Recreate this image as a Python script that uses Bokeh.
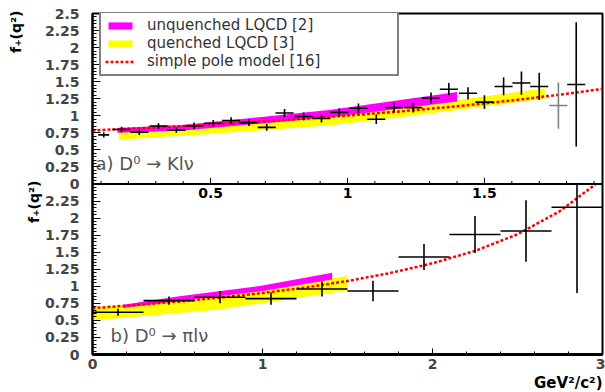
import math
from bokeh.plotting import figure
from bokeh.models import (Range1d, LinearAxis, FixedTicker, CustomJSTickFormatter,
                          Legend, LegendItem, Label, Span, Title)
from bokeh.core.properties import value
from bokeh.embed import file_html
from bokeh.resources import INLINE

# ---------------- Panel a) D0 -> K l nu ----------------
k_q2 = [0.11, 0.175, 0.24, 0.31, 0.375, 0.44, 0.51, 0.575, 0.64, 0.705, 0.77, 0.84, 0.905, 0.97,
        1.04, 1.105, 1.17, 1.24, 1.305, 1.37, 1.44, 1.50, 1.57, 1.635, 1.70, 1.77, 1.835]
k_f = [0.72, 0.80, 0.76, 0.85, 0.79, 0.85, 0.89, 0.93, 0.90, 0.83, 1.04, 0.99, 0.96, 1.05,
       1.11, 0.95, 1.12, 1.12, 1.26, 1.39, 1.33, 1.20, 1.43, 1.48, 1.43, 1.15, 1.46]
k_ferr = [0.04, 0.04, 0.04, 0.04, 0.04, 0.05, 0.05, 0.05, 0.05, 0.05, 0.06, 0.06, 0.06, 0.06,
          0.07, 0.07, 0.07, 0.07, 0.08, 0.09, 0.09, 0.10, 0.13, 0.17, 0.20, 0.34, 0.91]
k_q2err = [0.02] + [0.033] * 26

k_unq_q2 = [0.16, 0.39, 0.94, 1.40]
k_unq_lo = [0.75, 0.78, 0.98, 1.21]
k_unq_hi = [0.82, 0.86, 1.09, 1.35]

k_que_q2 = [0.165, 0.41, 0.94, 1.19, 1.72]
k_que_lo = [0.65, 0.71, 0.86, 0.98, 1.25]
k_que_hi = [0.78, 0.84, 0.98, 1.12, 1.40]

k_pole_q2 = [0.069, 0.2, 0.4, 0.6, 0.8, 1.0, 1.2, 1.4, 1.6, 1.8, 1.931]
k_pole_f = [0.786, 0.810, 0.849, 0.897, 0.947, 1.004, 1.067, 1.140, 1.224, 1.322, 1.395]

k_xticks_major = [0.5, 1.0, 1.5]
k_xticks_minor = [0.1, 0.2, 0.3, 0.4, 0.6, 0.7, 0.8, 0.9, 1.1, 1.2, 1.3, 1.4, 1.6, 1.7, 1.8, 1.9]
k_xtick_labels = ["0.5", "1", "1.5"]

# ---------------- Panel b) D0 -> pi l nu ----------------
pi_q2 = [0.15, 0.45, 0.75, 1.05, 1.35, 1.65, 1.95, 2.25, 2.55, 2.85]
pi_f = [0.62, 0.79, 0.84, 0.82, 0.96, 0.93, 1.43, 1.76, 1.81, 2.16]
pi_ferr = [0.05, 0.06, 0.09, 0.09, 0.11, 0.15, 0.19, 0.27, 0.45, 1.26]
pi_q2err = [0.15] * 10

pi_unq_q2 = [0.18, 0.5, 1.0, 1.41]
pi_unq_lo = [0.68, 0.78, 0.93, 1.10]
pi_unq_hi = [0.73, 0.85, 1.01, 1.20]

pi_que_q2 = [0.0, 0.75, 1.5]
pi_que_lo = [0.50, 0.66, 0.94]
pi_que_hi = [0.68, 0.86, 1.15]

pi_pole_q2 = [0.0, 0.25, 0.5, 0.75, 1.0, 1.25, 1.5, 1.75, 2.0, 2.25, 2.5, 2.75, 2.96]
pi_pole_f = [0.68, 0.725, 0.775, 0.834, 0.901, 0.981, 1.077, 1.194, 1.337, 1.519, 1.762, 2.103, 2.50]

y_ticks = [0.25 * i for i in range(21)]
y_minor = [round(0.05 * i, 2) for i in range(101)]
x_ticks = [0, 1, 2, 3]
x_minor = [round(0.2 * i, 1) for i in range(16)]

PANEL_TOP = 2.5  # f+ limit of each panel

# ---------------- figure ----------------
p = figure(width=605, height=392, x_range=Range1d(0, 3), y_range=Range1d(0, 5.0),
           output_backend="svg", toolbar_location=None,
           x_axis_type=None, y_axis_type=None,
           min_border_left=92, min_border_right=3, min_border_top=13, min_border_bottom=38)
p.extra_x_ranges = {"kx": Range1d(0.069, 1.931)}
p.extra_y_ranges = {"ky": Range1d(-2.5, 2.5)}
p.outline_line_color = "black"
p.outline_line_width = 2
p.background_fill_color = "white"
p.border_fill_color = "white"

tick_font = value("DejaVu Sans")

yaxis = LinearAxis(ticker=FixedTicker(ticks=y_ticks, minor_ticks=y_minor),
                   formatter=CustomJSTickFormatter(code="""
                       let v = tick >= 2.4999 ? tick - 2.5 : tick;
                       v = Math.round(v * 100) / 100;
                       return String(v);"""))
yaxis.major_tick_in = 8
yaxis.major_tick_out = 0
yaxis.minor_tick_in = 4
yaxis.minor_tick_out = 0
yaxis.axis_line_width = 2
yaxis.major_label_text_font = "DejaVu Sans"
yaxis.major_label_text_font_style = "bold"
yaxis.major_label_text_font_size = "14px"
yaxis.major_label_standoff = 13
p.add_layout(yaxis, "left")

xaxis = LinearAxis(ticker=FixedTicker(ticks=x_ticks, minor_ticks=x_minor))
xaxis.major_tick_in = 6
xaxis.major_tick_out = 0
xaxis.minor_tick_in = 3
xaxis.minor_tick_out = 0
xaxis.axis_line_width = 3
xaxis.major_label_text_font = "DejaVu Sans"
xaxis.major_label_text_font_style = "bold"
xaxis.major_label_text_font_size = "14px"
xaxis.major_label_standoff = 4
p.add_layout(xaxis, "below")

# axis titles (side panels, so they are not clipped to the frame)
for off in (167, -3):
    p.add_layout(Title(text="f₊(q²)", align="right", offset=off, standoff=0,
                       text_font="DejaVu Sans", text_font_size="14px",
                       text_font_style="bold", text_color="black"), "left")
p.add_layout(Title(text="GeV²/c²)", align="right", offset=0, standoff=0,
                   text_font="DejaVu Sans", text_font_size="15px",
                   text_font_style="bold", text_color="black"), "below")

# separator between panels
p.add_layout(Span(location=PANEL_TOP, dimension="width", line_color="black", line_width=2))

# ---------------- panel a ----------------
kk = dict(x_range_name="kx", y_range_name="ky")
r_que = p.varea(x=k_que_q2, y1=k_que_lo, y2=k_que_hi, fill_color="#ffff00", **kk)
r_unq = p.varea(x=k_unq_q2, y1=k_unq_lo, y2=k_unq_hi, fill_color="#ff00ff", **kk)
r_pole = p.line(k_pole_q2, k_pole_f, line_color="#ff0000", line_width=2.5, line_dash="3 2", **kk)

k_col = ["black"] * len(k_q2)
k_col[25] = "#808080"
p.segment(x0=[q - d for q, d in zip(k_q2, k_q2err)], x1=[q + d for q, d in zip(k_q2, k_q2err)],
          y0=k_f, y1=k_f, line_color=k_col, line_width=1.6, **kk)
p.segment(x0=k_q2, x1=k_q2, y0=[f - e for f, e in zip(k_f, k_ferr)],
          y1=[f + e for f, e in zip(k_f, k_ferr)], line_color=k_col, line_width=1.6, **kk)

# x ticks of panel a (drawn at the panel's lower edge)
p.segment(x0=k_xticks_minor, x1=k_xticks_minor, y0=[0] * len(k_xticks_minor),
          y1=[0.045] * len(k_xticks_minor), line_color="black", line_width=1, **kk)
p.segment(x0=k_xticks_major, x1=k_xticks_major, y0=[0] * 3, y1=[0.09] * 3,
          line_color="black", line_width=1, **kk)
p.text(x=k_xticks_major, y=[0] * 3, text=k_xtick_labels, text_font=tick_font,
       text_font_style="bold", text_font_size="14px", text_align="center",
       text_baseline="top", y_offset=4, **kk)

# ---------------- panel b ----------------
p.varea(x=pi_que_q2, y1=pi_que_lo, y2=pi_que_hi, fill_color="#ffff00")
p.varea(x=pi_unq_q2, y1=pi_unq_lo, y2=pi_unq_hi, fill_color="#ff00ff")
p.line(pi_pole_q2, pi_pole_f, line_color="#ff0000", line_width=2.5, line_dash="3 2")
p.segment(x0=[q - d for q, d in zip(pi_q2, pi_q2err)], x1=[q + d for q, d in zip(pi_q2, pi_q2err)],
          y0=pi_f, y1=pi_f, line_color="black", line_width=1.6)
p.segment(x0=pi_q2, x1=pi_q2, y0=[f - e for f, e in zip(pi_f, pi_ferr)],
          y1=[min(f + e, PANEL_TOP) for f, e in zip(pi_f, pi_ferr)], line_color="black", line_width=1.6)

# ---------------- legend ----------------
legend = Legend(items=[LegendItem(label="unquenched LQCD [2]", renderers=[r_unq]),
                       LegendItem(label="quenched LQCD [3]", renderers=[r_que]),
                       LegendItem(label="simple pole model [16]", renderers=[r_pole])],
                location=(7, 278), orientation="vertical")
legend.border_line_color = "black"
legend.border_line_width = 2
legend.background_fill_color = "white"
legend.background_fill_alpha = 1
legend.label_text_font = "DejaVu Sans"
legend.label_text_font_size = "15px"
legend.label_text_color = "#333333"
legend.glyph_width = 30
legend.glyph_height = 9
legend.label_standoff = 12
legend.label_height = 15
legend.label_width = 246
legend.padding = 4
legend.spacing = 0
legend.margin = 0
p.add_layout(legend, "center")

# ---------------- panel texts ----------------
lab_font = "DejaVu Sans"
p.add_layout(Label(x=0.018, y=2.8, text="a) D⁰ → Klν", text_font=lab_font, text_font_size="18px",
                   text_color="#555555", text_baseline="middle"))
p.add_layout(Label(x=0.106, y=0.279, text="b) D⁰ → πlν", text_font=lab_font, text_font_size="18px",
                   text_color="#555555", text_baseline="middle"))

open("out.html", "w").write(file_html(p, INLINE))
